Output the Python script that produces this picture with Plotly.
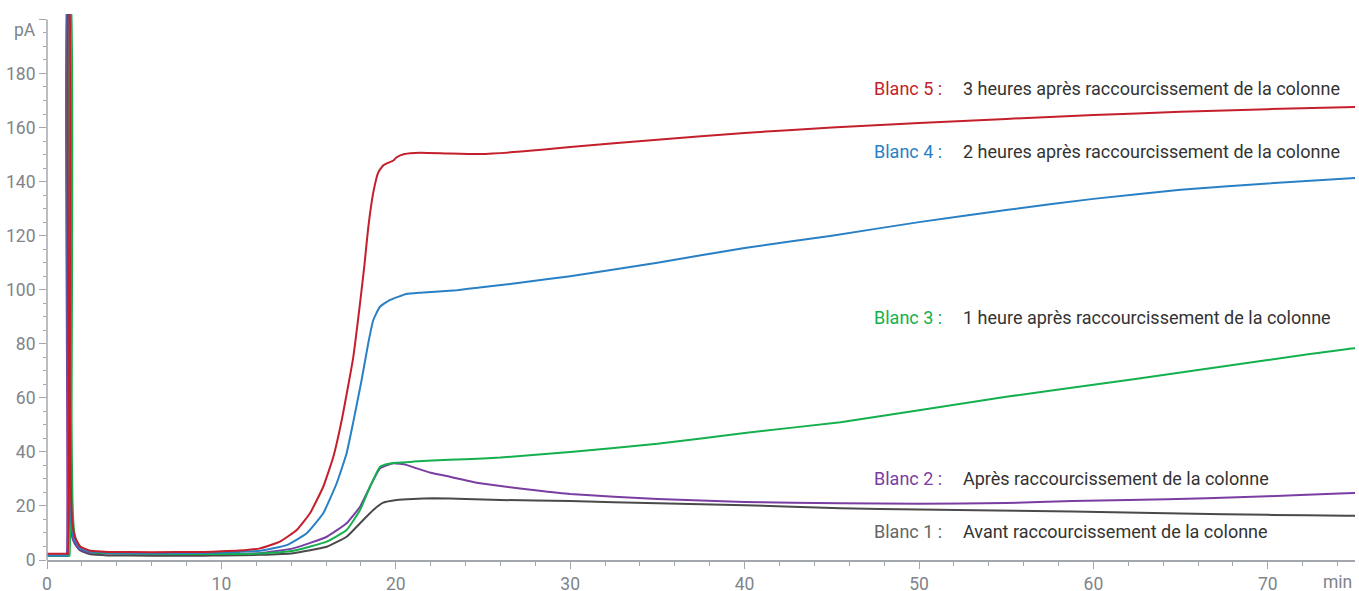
import plotly.graph_objects as go

# ---- data ----
t_blanc5 = [0, 1.15, 1.2, 1.22, 1.28, 1.31, 1.36, 1.45, 1.6, 1.9, 2.5, 3.5, 6, 9, 10, 11, 12.21, 13.36,
            14.32, 15.08, 15.84, 16.42, 16.9, 17.56, 17.95, 18.2, 18.42, 18.71, 19.0, 19.28, 19.86, 20.05,
            20.5, 21.4, 23, 24.8, 27, 30, 35, 40, 45, 50, 55, 60, 65, 70, 75]
v_blanc5 = [2.3, 2.3, 2.3, 205, 205, 60, 28, 14, 8.5, 5, 3.4, 3.0, 2.9, 3.0, 3.2, 3.5, 4.3, 6.8,
            11.1, 17.3, 27.1, 38.2, 51.8, 75, 95, 109, 123, 136, 143.5, 146, 147.8, 149,
            150.2, 150.7, 150.4, 150.2, 151, 152.8, 155.5, 158, 160, 161.7, 163.2, 164.6, 165.8, 166.8, 167.6]

t_blanc4 = [0, 1.12, 1.17, 1.19, 1.25, 1.28, 1.33, 1.42, 1.57, 1.87, 2.5, 3.5, 6, 9, 10, 11, 12.21, 13.74,
            14.89, 15.84, 16.61, 17.18, 17.56, 18.04, 18.42, 18.71, 19.09, 19.67, 20.6, 21.4, 23.5, 24.8,
            27, 30, 35, 40, 45, 50, 55, 60, 65, 70, 75]
v_blanc4 = [1.7, 1.7, 1.7, 205, 205, 55, 25, 12, 7.5, 4.5, 3.1, 2.7, 2.5, 2.6, 2.8, 3.0, 3.4, 5.5,
            9.9, 17.3, 28.4, 39.5, 51, 66.6, 80.2, 88.8, 93.7, 96.2, 98.4, 98.9, 99.8, 100.8,
            102.5, 105, 110, 115.4, 120, 125, 129.5, 133.6, 137, 139.3, 141.3]

t_blanc3 = [0, 1.25, 1.3, 1.32, 1.38, 1.41, 1.46, 1.55, 1.7, 2.0, 2.6, 3.5, 6, 9, 10, 12.2, 14.12, 16.04,
            17.18, 17.95, 18.52, 19.1, 19.6, 20.05, 21, 22.1, 24, 26, 30, 35, 40, 45.5, 50,
            55, 60, 64.6, 70, 74.5, 75]
v_blanc3 = [1.6, 1.6, 1.6, 205, 205, 50, 22, 11, 7, 4.2, 2.9, 2.5, 2.3, 2.2, 2.2, 2.4, 3.4, 6.8,
            11.1, 18.5, 27.1, 34.5, 35.6, 36, 36.4, 36.8, 37.3, 37.9, 40, 43, 47, 51, 55.4,
            60.4, 64.8, 69, 74, 78, 78.3]

t_blanc2 = [0, 1.07, 1.12, 1.14, 1.2, 1.23, 1.28, 1.37, 1.52, 1.82, 2.4, 3.5, 6, 9, 10, 12.2, 14.12, 16.04,
            17.18, 17.95, 18.52, 19.1, 19.86, 20.6, 21.2, 22, 23.1, 24.5, 26, 28, 30, 35, 40,
            45.5, 50, 55, 58.8, 62, 66.5, 70, 74.5, 75]
v_blanc2 = [1.6, 1.6, 1.6, 205, 205, 50, 22, 11, 7, 4.2, 2.8, 2.4, 2.3, 2.3, 2.3, 2.5, 4.3, 8.6,
            13.6, 19.7, 27.1, 33.9, 35.8, 35.2, 33.9, 32.3, 30.8, 28.8, 27.4, 25.8, 24.4, 22.6, 21.5,
            21, 20.8, 21.1, 21.8, 22.2, 22.8, 23.6, 24.7, 24.8]

t_blanc1 = [0, 1.15, 1.2, 1.22, 1.28, 1.31, 1.36, 1.45, 1.6, 1.9, 2.5, 3.5, 6, 9, 10, 12.2, 14.12, 16.04,
            17.18, 17.95, 18.71, 19.28, 20.05, 21, 22.15, 24, 26, 30, 35, 40, 45.5, 50, 58.8, 65, 70, 74.5, 75]
v_blanc1 = [1.5, 1.5, 1.5, 205, 205, 45, 20, 10, 6, 3.5, 2.1, 1.7, 1.6, 1.6, 1.7, 1.9, 2.5, 4.9,
            8.6, 13.6, 18.5, 21.2, 22.2, 22.6, 22.8, 22.6, 22.2, 21.8, 21, 20.3, 19.1, 18.7, 17.9, 17.2, 16.7, 16.4, 16.4]

labels = ["Blanc 5 :", "Blanc 4 :", "Blanc 3 :", "Blanc 2 :", "Blanc 1 :"]
descriptions = [
    "3 heures après raccourcissement de la colonne",
    "2 heures après raccourcissement de la colonne",
    "1 heure après raccourcissement de la colonne",
    "Après raccourcissement de la colonne",
    "Avant raccourcissement de la colonne",
]
label_y = [174.6, 151, 89.9, 30, 10.7]
colors = ["#c41f2c", "#2a80c5", "#14b04e", "#7a3ea2", "#4a4a4a"]
label_colors = ["#c41f2c", "#2a80c5", "#14b04e", "#7a3ea2", "#666666"]

x_ticks = [0, 10, 20, 30, 40, 50, 60, 70]
y_ticks = [0, 20, 40, 60, 80, 100, 120, 140, 160, 180, 200]
y_ticktext = ["0", "20", "40", "60", "80", "100", "120", "140", "160", "180", ""]

series = [(t_blanc1, v_blanc1, 4), (t_blanc2, v_blanc2, 3), (t_blanc3, v_blanc3, 2),
          (t_blanc4, v_blanc4, 1), (t_blanc5, v_blanc5, 0)]

fig = go.Figure()
for t, v, i in series:
    fig.add_trace(go.Scatter(x=t, y=v, mode="lines", name=labels[i],
                             line=dict(color=colors[i], width=2, shape="spline", smoothing=0.4),
                             showlegend=False))

font = "Roboto, sans-serif"
tick_color = "#80848b"
axis_color = "#a3a7ad"
fs = 18
tfs = 17.5

for i in range(5):
    fig.add_annotation(x=51.45, y=label_y[i], xref="x", yref="y", text=labels[i],
                       showarrow=False, xanchor="right", yanchor="middle",
                       font=dict(family=font, size=fs, color=label_colors[i]))
    fig.add_annotation(x=52.4, y=label_y[i], xref="x", yref="y", text=descriptions[i],
                       showarrow=False, xanchor="left", yanchor="middle",
                       font=dict(family=font, size=fs, color="#333333"))

fig.add_annotation(x=-0.007, y=196, xref="paper", yref="y", text="pA", showarrow=False,
                   xanchor="right", yanchor="middle", font=dict(family=font, size=tfs, color=tick_color))
fig.add_annotation(x=0.999, y=-0.04, xref="paper", yref="paper", text="min", showarrow=False,
                   xanchor="right", yanchor="middle", font=dict(family=font, size=tfs, color=tick_color))

# y axis line up to 200 only
fig.add_shape(type="line", xref="paper", yref="y", x0=0, x1=0, y0=-0.5, y1=200,
              line=dict(color=axis_color, width=1.5))

fig.update_layout(
    width=1359, height=591,
    margin=dict(l=47, r=4, t=14, b=31),
    paper_bgcolor="white", plot_bgcolor="white",
    font=dict(family=font, size=fs, color=tick_color),
    xaxis=dict(range=[0, 75], tickvals=x_ticks, showgrid=False, zeroline=False, automargin=False,
               showline=True, linecolor=axis_color, linewidth=1.5,
               ticks="outside", ticklen=7, tickwidth=1.2, tickcolor=axis_color,
               ticklabelstandoff=0,
               tickfont=dict(family=font, size=tfs, color=tick_color),
               minor=dict(dtick=2, ticks="outside", ticklen=4, tickwidth=1, tickcolor=axis_color)),
    yaxis=dict(range=[0, 202], tickvals=y_ticks, ticktext=y_ticktext, showgrid=False, zeroline=False,
               showline=False, automargin=False,
               ticks="outside", ticklen=7, tickwidth=1.2, tickcolor=axis_color,
               tickfont=dict(family=font, size=tfs, color=tick_color),
               minor=dict(dtick=5, ticks="outside", ticklen=3, tickwidth=1, tickcolor=axis_color)),
)

# remove the default page margin so the figure fills the window exactly
fig.write_html("out.html", config={"displayModeBar": False},
               post_script="document.body.style.margin='0';document.body.style.overflow='hidden';")
